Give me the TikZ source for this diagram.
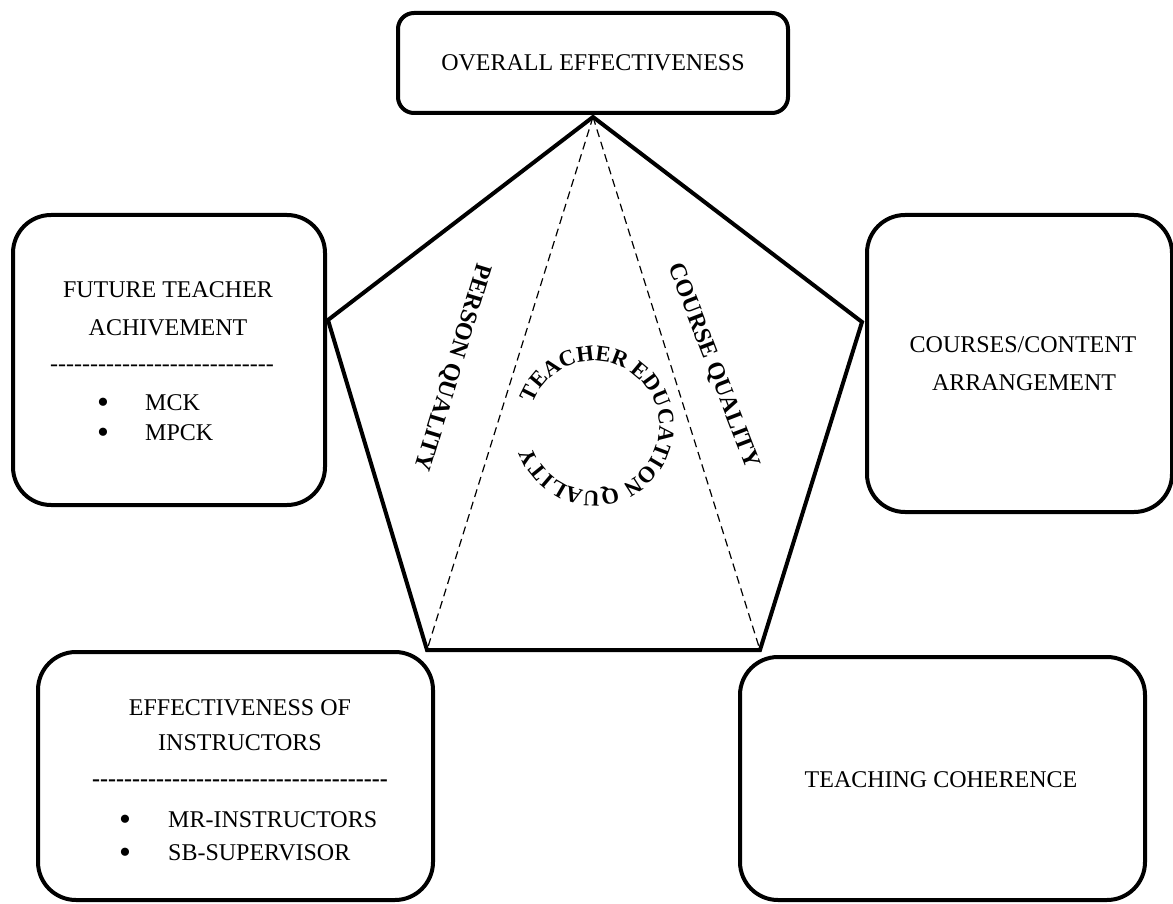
\documentclass[tikz,border=0pt]{standalone}
\usepackage{fontspec}
\setmainfont{Liberation Serif}
\usetikzlibrary{decorations.text}
\newcommand\hyrow[1]{\foreach \k in {1,...,#1}{-\kern0pt}}
\tikzset{
  x=1pt, y=1pt,
  bigbox/.style={draw, line width=4pt, rounded corners=38pt, inner sep=0pt},
  topbox/.style={draw, line width=4pt, rounded corners=16pt, inner sep=0pt},
  pent/.style={line width=4pt, line join=miter},
  guide/.style={line width=1.2pt, dash pattern=on 8pt off 5pt},
  lbl/.style={font=\fontsize{24}{28}\selectfont, inner sep=0pt, anchor=base},
  lblw/.style={lbl, anchor=base west},
  dot/.style={font=\fontsize{34}{34}\selectfont, inner sep=0pt, anchor=base},
  rot/.style={font=\fontsize{24}{28}\selectfont\bfseries, inner sep=0pt}
}
\begin{document}
\begin{tikzpicture}
\useasboundingbox (0,0) rectangle (1173,-904);
% boxes
\node[topbox, minimum width=390pt, minimum height=100pt] (top) at (593,-63) {};
\node[bigbox, minimum width=312pt, minimum height=290pt] (ft) at (169,-360) {};
\node[bigbox, minimum width=305pt, minimum height=297pt] (cc) at (1019.5,-363.5) {};
\node[bigbox, minimum width=395pt, minimum height=248pt] (ei) at (235.5,-776) {};
\node[bigbox, minimum width=405pt, minimum height=243pt] (tc) at (942.5,-778.5) {};
% pentagon
\coordinate (pA) at (593,-117);
\coordinate (pR) at (862,-322);
\coordinate (pBR) at (760,-650);
\coordinate (pBL) at (427,-650);
\coordinate (pL) at (328,-320);
\draw[pent] (pA) -- (pR) -- (pBR) -- (pBL) -- (pL) -- cycle;
\draw[guide] (pA) -- (pBL);
\draw[guide] (pA) -- (pBR);
% texts
\node[lbl] (t1) at (593,-71) {OVERALL EFFECTIVENESS};
\node[lbl] (f1) at (168,-298) {FUTURE TEACHER};
\node[lbl] (f2) at (168,-335) {ACHIVEMENT};
\node[lbl] (f3) at (162,-371) {\hyrow{28}};
\node[dot] (fb1) at (103,-413) {\textbullet};
\node[lblw] (fi1) at (145,-410) {MCK};
\node[dot] (fb2) at (103,-443) {\textbullet};
\node[lblw] (fi2) at (145,-440) {MPCK};
\node[lbl] (c1) at (1023,-352) {COURSES/CONTENT};
\node[lbl] (c2) at (1024,-390) {ARRANGEMENT};
\node[lbl] (e1) at (240,-715) {EFFECTIVENESS OF};
\node[lbl] (e2) at (240,-750) {INSTRUCTORS};
\node[lbl, font=\fontsize{24}{28}\selectfont\bfseries] (e3) at (240,-786) {\hyrow{37}};
\node[dot] (eb1) at (125,-830) {\textbullet};
\node[lblw] (ei1) at (168,-827) {MR-INSTRUCTORS};
\node[dot] (eb2) at (125,-863) {\textbullet};
\node[lblw] (ei2) at (168,-860) {SB-SUPERVISOR};
\node[lbl] (tc1) at (941,-787) {TEACHING COHERENCE};
% rotated labels
\node[rot, rotate=-107] (pq) at (452,-367) {PERSON QUALITY};
\node[rot, rotate=-69] (cq) at (713,-366) {COURSE QUALITY};
% circular label
\coordinate (cen) at (594,-426);
\path[decorate, decoration={text along path, text align=center,
  text={|\fontsize{22.5}{26}\selectfont\bfseries|TEACHER EDUCATION QUALITY}}]
  (cen) ++(160:65) arc[start angle=160, end angle=-162, radius=65];
\end{tikzpicture}
\end{document}
